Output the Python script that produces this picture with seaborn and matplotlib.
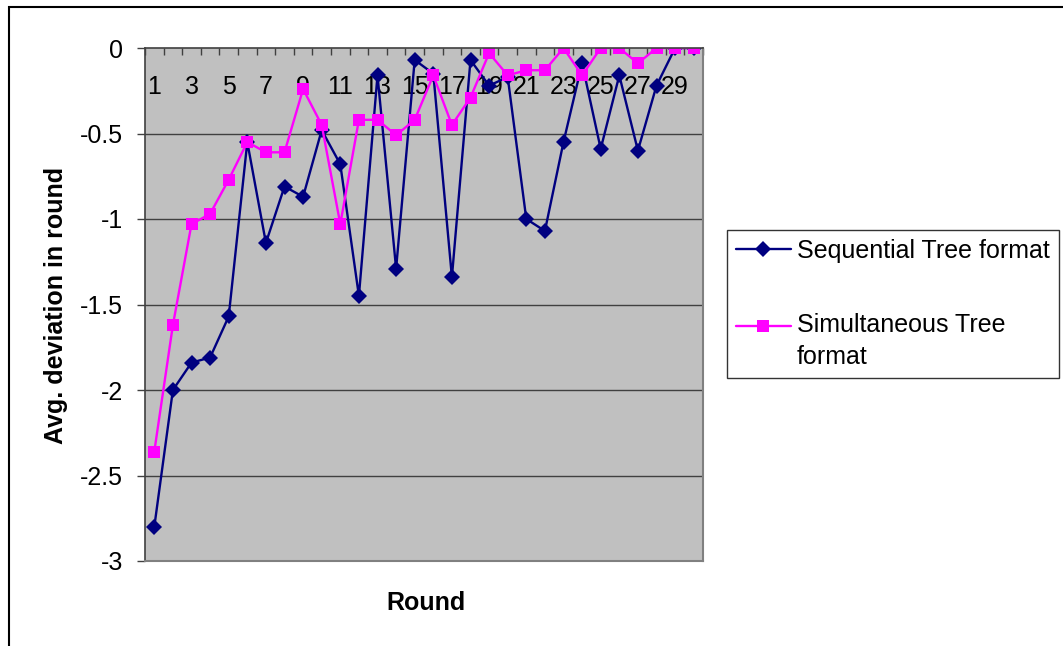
import numpy as np
import pandas as pd
import seaborn as sns
import matplotlib
matplotlib.use("Agg")
import matplotlib.pyplot as plt
from matplotlib.patches import Rectangle
from matplotlib.legend_handler import HandlerLine2D

rounds = list(range(1, 31))
sequential = [-2.80, -2.00, -1.84, -1.81, -1.57, -0.55, -1.14, -0.81, -0.87, -0.48,
              -0.68, -1.45, -0.16, -1.29, -0.07, -0.15, -1.34, -0.07, -0.22, -0.17,
              -1.00, -1.07, -0.55, -0.09, -0.59, -0.16, -0.60, -0.22, 0.00, 0.00]
simultaneous = [-2.36, -1.62, -1.03, -0.97, -0.77, -0.55, -0.61, -0.61, -0.24, -0.45,
                -1.03, -0.42, -0.42, -0.51, -0.42, -0.16, -0.45, -0.29, -0.03, -0.16,
                -0.13, -0.13, 0.00, -0.16, 0.00, 0.00, -0.09, 0.00, 0.00, 0.00]
series_names = ["Sequential Tree format", "Simultaneous Tree\nformat"]
y_ticks = [0, -0.5, -1, -1.5, -2, -2.5, -3]
y_tick_labels = ["0", "-0.5", "-1", "-1.5", "-2", "-2.5", "-3"]
x_label_rounds = [1, 3, 5, 7, 9, 11, 13, 15, 17, 19, 21, 23, 25, 27, 29]

sns.set_theme(style="white")
plt.rcParams["font.family"] = ["Liberation Sans", "DejaVu Sans"]
plt.rcParams["text.color"] = "black"
plt.rcParams["xtick.labelcolor"] = "black"
plt.rcParams["ytick.labelcolor"] = "black"


class RaisedHandler(HandlerLine2D):
    """Align the legend handle with the first line of a two-line label."""
    def __init__(self, dy, **kw):
        super().__init__(**kw)
        self.dy = dy

    def create_artists(self, legend, orig_handle, xdescent, ydescent, width,
                       height, fontsize, trans):
        return super().create_artists(legend, orig_handle, xdescent,
                                      ydescent - 2 * self.dy, width, height,
                                      fontsize, trans)


df = pd.DataFrame({
    "Round": rounds * 2,
    "Value": sequential + simultaneous,
    "Series": [series_names[0]] * len(rounds) + [series_names[1]] * len(rounds),
})

FS = 18
W, H = 1063, 646
fig = plt.figure(figsize=(W / 100, H / 100), dpi=100)
ax = fig.add_axes([145 / W, 1 - 561 / H, 558 / W, 513 / H])
ax.set_facecolor("#C0C0C0")

sns.lineplot(data=df, x="Round", y="Value", hue="Series", style="Series",
             palette=["#000080", "#FF00FF"], markers=["D", "s"], dashes=False,
             markersize=8.5, linewidth=1.7, markeredgewidth=0, ax=ax, legend=True)

ax.set_xlim(0.5, 30.5)
ax.set_ylim(-3, 0)
ax.set_yticks(y_ticks)
ax.set_yticklabels(y_tick_labels)
ax.tick_params(axis="y", which="major", direction="out", length=6, width=1,
               color="#404040", labelsize=FS, pad=10, left=True, labelcolor="black")
for y in y_ticks[1:-1]:
    ax.axhline(y, color="#404040", linewidth=1.0, zorder=1)

# category axis at top (y = 0)
ax.xaxis.tick_top()
ax.set_xticks(np.arange(0.5, 31, 1.0))
ax.set_xticklabels([])
ax.set_xticks(x_label_rounds, minor=True)
ax.set_xticklabels([str(r) for r in x_label_rounds], minor=True)
ax.tick_params(axis="x", which="major", direction="in", length=5, width=1,
               color="#404040", top=True, bottom=False)
ax.tick_params(axis="x", which="minor", length=0, labelsize=FS, pad=-37,
               top=True, bottom=False, labeltop=True, labelbottom=False,
               labelcolor="black")

for s in ["left", "top"]:
    ax.spines[s].set_color("#404040")
    ax.spines[s].set_linewidth(1.2)
for s in ["right", "bottom"]:
    ax.spines[s].set_color("#808080")
    ax.spines[s].set_linewidth(1.5)

ax.set_xlabel("")
ax.set_ylabel("")
fig.text(426 / W, 1 - 603 / H, "Round", ha="center", va="center",
         fontsize=FS, fontweight="bold", color="black")
fig.text(56 / W, 1 - 305 / H, "Avg. deviation in round", ha="center", va="center",
         rotation=90, fontsize=FS, fontweight="bold", color="black")

handles, labels = ax.get_legend_handles_labels()
ax.get_legend().remove()
leg = fig.legend(handles, labels, loc="upper left",
                 bbox_to_anchor=(727 / W, 1 - 230 / H), frameon=True,
                 fancybox=False, edgecolor="black", fontsize=FS,
                 labelspacing=2.0, handlelength=2.2, handletextpad=0.25,
                 borderpad=0.35, borderaxespad=0,
                 handler_map={handles[1]: RaisedHandler(11.5)})
leg.get_frame().set_linewidth(1.0)
for t in leg.get_texts():
    t.set_color("black")
    t.set_linespacing(1.44)

fig.patches.append(Rectangle((9 / W, -0.2), 1.2, 1.2 - 7 / H, transform=fig.transFigure,
                             fill=False, edgecolor="black", linewidth=1.5))

fig.savefig("out.png", dpi=100, facecolor="white")
